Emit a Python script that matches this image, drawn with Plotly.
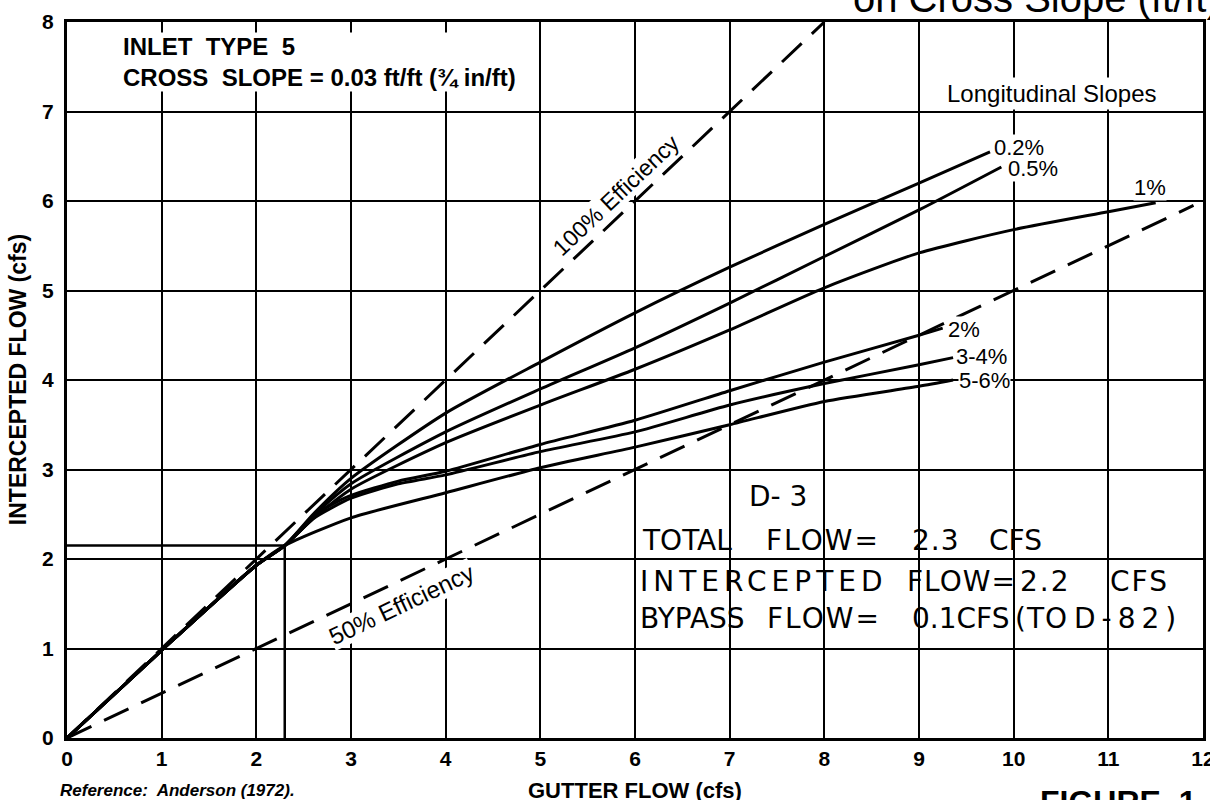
import plotly.graph_objects as go

# ---------------- data ----------------
x_ticks = list(range(0, 13))
y_ticks = list(range(0, 9))

slope_labels = ["0.2%", "0.5%", "1%", "2%", "3-4%", "5-6%"]

x_02 = [0, 1, 2, 2.3, 2.6, 3, 4, 5, 6, 7, 8, 9, 9.75]
y_02 = [0, 0.98, 1.93, 2.15, 2.5, 2.9, 3.63, 4.2, 4.75, 5.26, 5.74, 6.2, 6.55]

x_05 = [0, 1, 2, 2.3, 2.6, 3, 4, 5, 6, 7, 8, 9, 9.87]
y_05 = [0, 0.98, 1.93, 2.15, 2.48, 2.84, 3.42, 3.9, 4.36, 4.86, 5.38, 5.9, 6.38]

x_1 = [0, 1, 2, 2.3, 2.6, 3, 4, 5, 6, 7, 8, 9, 10, 11, 11.5]
y_1 = [0, 0.98, 1.93, 2.15, 2.45, 2.78, 3.3, 3.72, 4.12, 4.56, 5.03, 5.42, 5.68, 5.88, 5.98]

x_2 = [0, 1, 2, 2.3, 2.7, 3, 3.5, 4, 5, 6, 7, 8, 9, 9.25]
y_2 = [0, 0.98, 1.93, 2.15, 2.55, 2.71, 2.87, 2.98, 3.28, 3.55, 3.88, 4.2, 4.5, 4.58]

x_34 = [0, 1, 2, 2.3, 2.6, 3, 3.5, 4, 5, 6, 7, 8, 9, 9.36]
y_34 = [0, 0.98, 1.93, 2.15, 2.45, 2.68, 2.84, 2.94, 3.2, 3.42, 3.72, 3.96, 4.17, 4.25]

x_56 = [0, 1, 2, 2.3, 3, 4, 5, 6, 7, 8, 9, 9.36]
y_56 = [0, 0.98, 1.93, 2.15, 2.46, 2.74, 3.02, 3.25, 3.5, 3.76, 3.93, 4.0]

curves_x = [x_02, x_05, x_1, x_2, x_34, x_56]
curves_y = [y_02, y_05, y_1, y_2, y_34, y_56]

label_x = [9.78, 9.93, 11.26, 9.3, 9.38, 9.41]
label_y = [6.6, 6.36, 6.15, 4.56, 4.26, 4.0]

eff100_x = [0, 8]
eff100_y = [0, 8]
eff50_x = [0, 11.9]
eff50_y = [0, 5.95]

# design example: total flow 2.3 cfs, intercepted ~2.15 cfs
example_total = 2.3
example_intercepted = 2.15

# handwritten note (words and where they sit)
note_words = ["D- 3",
              "TOTAL", "FLOW=", "2.3", "CFS",
              "INTERCEPTED", "FLOW=", "2.2", "CFS",
              "BYPASS", "FLOW=", "0.1CFS", "(TO", "D-82)"]
note_x = [7.18,
          6.05, 7.36, 8.9, 9.72,
          6.03, 8.85, 10.05, 11.0,
          6.03, 7.37, 8.9, 9.99, 10.62]
note_y = [2.7,
          2.21, 2.21, 2.21, 2.21,
          1.75, 1.75, 1.75, 1.75,
          1.33, 1.33, 1.33, 1.33, 1.33]
note_spacing = [0, 0, 2, 1, 0, 5, 1, 2, 2, 0, 2, 0, 1, 6]

# ---------------- figure ----------------
fig = go.Figure()
ink = "black"
helv = "Liberation Sans, Arial, Helvetica"
hand = "DejaVu Sans"

fig.add_trace(go.Scatter(x=eff100_x, y=eff100_y, mode="lines",
                         line=dict(color=ink, width=3, dash="27px,14px"),
                         hoverinfo="skip", showlegend=False))
fig.add_trace(go.Scatter(x=eff50_x, y=eff50_y, mode="lines",
                         line=dict(color=ink, width=3, dash="27px,14px"),
                         hoverinfo="skip", showlegend=False))

fig.add_trace(go.Scatter(x=[0, example_total], y=[example_intercepted, example_intercepted],
                         mode="lines", line=dict(color=ink, width=2.5),
                         hoverinfo="skip", showlegend=False))
fig.add_trace(go.Scatter(x=[example_total, example_total], y=[0, example_intercepted],
                         mode="lines", line=dict(color=ink, width=2.5),
                         hoverinfo="skip", showlegend=False))

for cx, cy, name in zip(curves_x, curves_y, slope_labels):
    fig.add_trace(go.Scatter(x=cx, y=cy, mode="lines", name=name,
                             line=dict(color=ink, width=3, shape="spline", smoothing=0.6),
                             showlegend=False))

annotations = []
for lx, ly, t in zip(label_x, label_y, slope_labels):
    annotations.append(dict(x=lx, y=ly, text=t, showarrow=False,
                            font=dict(family=helv, size=22, color=ink),
                            xanchor="left", yanchor="middle", bgcolor="white", borderpad=0))

for w, nx, ny, sp in zip(note_words, note_x, note_y, note_spacing):
    txt = w if sp == 0 else f'<span style="letter-spacing:{sp}px">{w}</span>'
    annotations.append(dict(x=nx, y=ny, text=txt, showarrow=False, xanchor="left",
                            yanchor="middle", font=dict(family=hand, size=28, color=ink)))

annotations += [
    dict(x=0.58, y=7.55, text="<b>INLET  TYPE  5</b><br><b>CROSS  SLOPE = 0.03 ft/ft (¾ in/ft)</b>",
         showarrow=False, xanchor="left", yanchor="middle", align="left",
         bgcolor="white", borderpad=0,
         font=dict(family=helv, size=24, color=ink)),
    dict(x=10.4, y=7.2, text="Longitudinal Slopes", showarrow=False, xanchor="center",
         yanchor="middle", bgcolor="white", borderpad=2,
         font=dict(family=helv, size=24, color=ink)),
    dict(x=5.8, y=6.07, text="100% Efficiency", showarrow=False, textangle=-43.4,
         bgcolor="white", borderpad=0,
         font=dict(family=helv, size=23, color=ink)),
    dict(x=3.53, y=1.49, text="50% Efficiency", showarrow=False, textangle=-25.3,
         bgcolor="white", borderpad=0,
         font=dict(family=helv, size=24, color=ink)),
    # axis titles
    dict(xref="paper", yref="paper", x=0.5, y=-0.073, text="<b>GUTTER FLOW (cfs)</b>",
         showarrow=False, xanchor="center", yanchor="middle",
         font=dict(family=helv, size=22, color=ink)),
    dict(xref="paper", yref="paper", x=-0.043, y=0.5, text="<b>INTERCEPTED FLOW (cfs)</b>",
         showarrow=False, xanchor="center", yanchor="middle", textangle=-90,
         font=dict(family=helv, size=23, color=ink)),
    # outside texts
    dict(xref="paper", yref="paper", x=-0.008, y=-0.073, text="<b><i>Reference:  Anderson (1972).</i></b>",
         showarrow=False, xanchor="left", yanchor="middle",
         font=dict(family=helv, size=17, color=ink)),
    dict(xref="paper", yref="paper", x=0.855, y=-0.061, text="<b>FIGURE  1</b>",
         showarrow=False, xanchor="left", yanchor="top",
         font=dict(family=helv, size=32, color=ink)),
    dict(xref="paper", yref="paper", x=0.69, y=1.034, text="on Cross Slope (ft/ft)",
         showarrow=False, xanchor="left", yanchor="middle",
         font=dict(family=helv, size=40, color=ink)),
]

fig.update_layout(
    width=1210, height=800,
    margin=dict(l=67, r=7, t=22, b=62, autoexpand=False),
    paper_bgcolor="white", plot_bgcolor="white",
    annotations=annotations,
    xaxis=dict(range=[0, 12], tickmode="array", tickvals=x_ticks,
               ticktext=[f"<b>{v}</b>" for v in x_ticks],
               showgrid=True, gridcolor=ink, gridwidth=2,
               showline=True, linecolor=ink, linewidth=3, mirror=True,
               zeroline=False, ticks="", ticklabeloverflow="allow", automargin=False,
               tickfont=dict(family=helv, size=21, color=ink)),
    yaxis=dict(range=[0, 8], tickmode="array", tickvals=y_ticks,
               ticktext=[f"<b>{v}</b>" for v in y_ticks],
               showgrid=True, gridcolor=ink, gridwidth=2,
               showline=True, linecolor=ink, linewidth=3, mirror=True,
               zeroline=False, ticks="", ticklabelstandoff=6, ticklabeloverflow="allow",
               automargin=False,
               tickfont=dict(family=helv, size=21, color=ink)),
)

fig.write_html("out.html", config={"displayModeBar": False},
               post_script="document.body.style.margin='0px';")
